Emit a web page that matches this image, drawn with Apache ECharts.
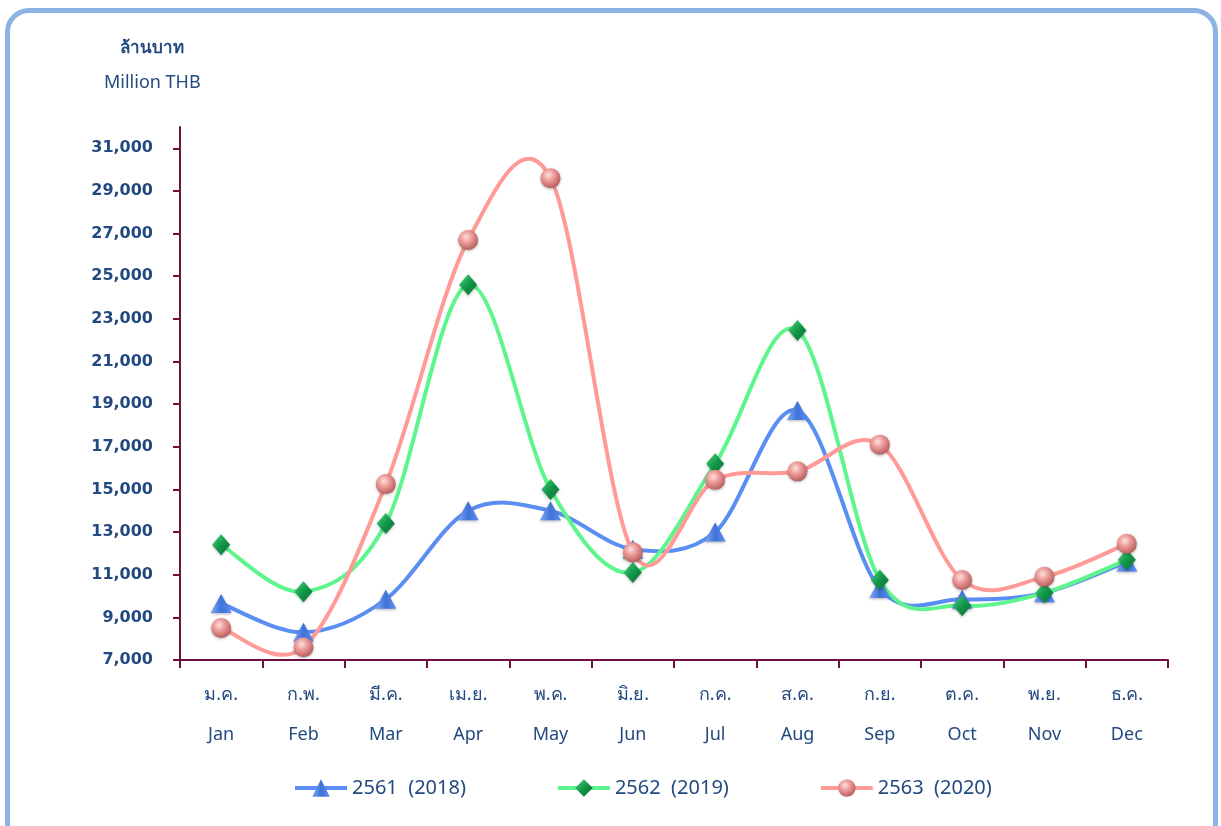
<!DOCTYPE html>
<html>
<head>
<meta charset="utf-8">
<script src="https://cdn.jsdelivr.net/npm/echarts@6/dist/echarts.min.js"></script>
<style>
html, body { margin: 0; padding: 0; background: #fff; overflow: hidden; }
#frame {
  position: absolute; left: 5px; top: 8px; width: 1213px; height: 840px;
  border: 5px solid #8db3e2; border-radius: 24px; box-sizing: border-box;
}
#chart { position: absolute; left: 0; top: 0; width: 1221px; height: 826px; }
</style>
</head>
<body>
<div id="frame"></div>
<div id="chart"></div>
<script>
// categories
var thaiMonths = ['ม.ค.', 'ก.พ.', 'มี.ค.', 'เม.ย.', 'พ.ค.', 'มิ.ย.', 'ก.ค.', 'ส.ค.', 'ก.ย.', 'ต.ค.', 'พ.ย.', 'ธ.ค.'];
var engMonths = ['Jan', 'Feb', 'Mar', 'Apr', 'May', 'Jun', 'Jul', 'Aug', 'Sep', 'Oct', 'Nov', 'Dec'];

// series values (million THB)
var y2018 = [9650, 8300, 9850, 14000, 14000, 12200, 13000, 18700, 10350, 9850, 10150, 11600];
var y2019 = [12400, 10200, 13400, 24600, 15000, 11100, 16200, 22450, 10750, 9550, 10150, 11700];
var y2020 = [8500, 7600, 15250, 26700, 29600, 12050, 15450, 15850, 17100, 10750, 10900, 12450];

var seriesNames = ['2561  (2018)', '2562  (2019)', '2563  (2020)'];

// y tick labels
var yTicks = [7000, 9000, 11000, 13000, 15000, 17000, 19000, 21000, 23000, 25000, 27000, 29000, 31000];

var textColor = '#234a80';
var axisColor = '#6b0f3c';
var lineColors = ['#5b8ef2', '#5ef58c', '#ff9a96'];

// Excel-like smooth curve (Catmull-Rom) through the points, placed with the axes
function curveSeries(values, color) {
  return {
    type: 'custom',
    silent: true,
    z: 1,
    data: values.map(function (v, i) { return [i, v]; }),
    encode: { x: 0, y: 1 },
    renderItem: function (params, api) {
      if (params.dataIndex !== 0) return null;
      var pts = values.map(function (v, i) { return api.coord([i, v]); });
      var n = pts.length;
      var d = 'M' + pts[0][0] + ' ' + pts[0][1];
      for (var i = 0; i < n - 1; i++) {
        var p0 = pts[Math.max(i - 1, 0)], p1 = pts[i], p2 = pts[i + 1], p3 = pts[Math.min(i + 2, n - 1)];
        var c1x = p1[0] + (p2[0] - p0[0]) / 6, c1y = p1[1] + (p2[1] - p0[1]) / 6;
        var c2x = p2[0] - (p3[0] - p1[0]) / 6, c2y = p2[1] - (p3[1] - p1[1]) / 6;
        d += ' C' + c1x + ' ' + c1y + ' ' + c2x + ' ' + c2y + ' ' + p2[0] + ' ' + p2[1];
      }
      return {
        type: 'path',
        shape: { pathData: d },
        style: { fill: null, stroke: color, lineWidth: 4, lineCap: 'round', lineJoin: 'round' }
      };
    }
  };
}

var chart = echarts.init(document.getElementById('chart'));

var shadow = { shadowColor: 'rgba(0,0,0,0.3)', shadowBlur: 3, shadowOffsetY: 1 };

var option = {
  animation: false,
  graphic: [
    { type: 'text', left: 120, top: 40, style: { text: 'ล้านบาท', fill: textColor, font: 'bold 17px "Noto Sans", sans-serif' } },
    { type: 'text', left: 104, top: 74, style: { text: 'Million THB', fill: textColor, font: '18px "Noto Sans", sans-serif' } }
  ],
  grid: { left: 180, right: 53, top: 127, bottom: 166 },
  legend: {
    left: 288, top: 773,
    itemWidth: 52, itemHeight: 22, itemGap: 90,
    textStyle: { color: textColor, fontSize: 20, fontFamily: '"Noto Sans", sans-serif' },
    data: seriesNames.map(function (name, i) {
      return { name: name, lineStyle: { opacity: 1, color: lineColors[i], width: 4 } };
    })
  },
  xAxis: {
    type: 'category',
    data: engMonths,
    boundaryGap: true,
    axisLine: { lineStyle: { color: axisColor, width: 2 } },
    axisTick: { show: true, interval: 0, length: 8, lineStyle: { color: axisColor, width: 2 } },
    axisLabel: {
      interval: 0,
      margin: 15,
      lineHeight: 40,
      fontSize: 18,
      color: textColor,
      fontFamily: '"Noto Sans", sans-serif',
      formatter: function (v, i) { return thaiMonths[i] + '\n' + v; }
    }
  },
  yAxis: {
    type: 'value',
    min: 7000,
    max: 32000,
    splitLine: { show: false },
    axisLine: { show: true, lineStyle: { color: axisColor, width: 2 } },
    axisTick: { show: true, length: 7, customValues: yTicks, lineStyle: { color: axisColor, width: 2 } },
    axisLabel: {
      customValues: yTicks,
      margin: 27,
      fontSize: 16,
      fontWeight: 'bold',
      color: textColor,
      fontFamily: '"DejaVu Sans", sans-serif',
      formatter: function (v) { return v.toLocaleString('en-US'); }
    }
  },
  series: [
    curveSeries(y2018, lineColors[0]),
    curveSeries(y2019, lineColors[1]),
    curveSeries(y2020, lineColors[2]),
    {
      name: seriesNames[0], type: 'line', data: y2018, z: 3,
      lineStyle: { opacity: 0, color: lineColors[0], width: 4 },
      symbol: 'triangle', symbolSize: [21, 19],
      itemStyle: Object.assign({
        color: new echarts.graphic.LinearGradient(0, 0, 1, 0, [
          { offset: 0, color: '#7aa6f7' }, { offset: 0.5, color: '#3f73d6' }, { offset: 1, color: '#5b8ef2' }
        ])
      }, shadow)
    },
    {
      name: seriesNames[1], type: 'line', data: y2019, z: 3,
      lineStyle: { opacity: 0, color: lineColors[1], width: 4 },
      symbol: 'diamond', symbolSize: [18, 21],
      itemStyle: Object.assign({
        color: new echarts.graphic.LinearGradient(0, 0, 1, 1, [
          { offset: 0, color: '#45d97c' }, { offset: 0.5, color: '#12964a' }, { offset: 1, color: '#0a6e34' }
        ])
      }, shadow)
    },
    {
      name: seriesNames[2], type: 'line', data: y2020, z: 3,
      lineStyle: { opacity: 0, color: lineColors[2], width: 4 },
      symbol: 'circle', symbolSize: 20,
      itemStyle: Object.assign({
        color: new echarts.graphic.RadialGradient(0.4, 0.35, 0.65, [
          { offset: 0, color: '#fde0de' }, { offset: 0.45, color: '#ec9a98' }, { offset: 1, color: '#b86060' }
        ])
      }, shadow)
    }
  ]
};

chart.setOption(option);
</script>
</body>
</html>
